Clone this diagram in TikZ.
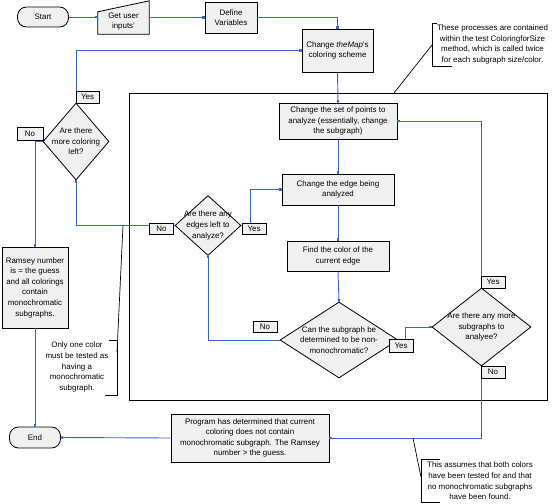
\documentclass[tikz,border=0pt]{standalone}
\usepackage{fontspec}
\setmainfont{Liberation Sans}
\usetikzlibrary{arrows.meta,shapes.geometric}
\definecolor{flow}{HTML}{3366CC}
\definecolor{boxfill}{HTML}{F0F0F0}
\begin{document}
\begin{tikzpicture}[x=1pt,y=-1pt,
 font=\fontsize{7.95}{10.6}\selectfont,
 proc/.style={draw=black,fill=boxfill,line width=0.8pt,align=center,inner sep=0pt},
 term/.style={proc,rounded corners=9pt},
 decision/.style={draw=black,fill=boxfill,line width=0.8pt,shape=diamond,inner sep=0pt},
 tag/.style={draw=black,fill=boxfill,line width=0.8pt,inner sep=0pt,minimum width=24pt,minimum height=12pt},
 flowline/.style={draw=flow,line width=0.9pt,-{Square[length=2.4pt,width=2.4pt]}},
 note/.style={align=center,inner sep=0pt},
 noteline/.style={draw=black,line width=0.7pt},
]
\useasboundingbox (0,0) rectangle (558,504);
% group rectangle
\node[draw=black,line width=1pt,minimum width=418pt,minimum height=307pt,inner sep=0pt] (group) at (338,246.5) {};
% nodes
\node[term,minimum width=51pt,minimum height=20pt] (start) at (43,17) {Start};
\node[minimum width=51pt,minimum height=33pt,inner sep=0pt] (inputs) at (123.5,17.5) {};
\draw[draw=black,fill=boxfill,line width=0.8pt] (inputs.south west) -- (inputs.south east) -- (inputs.north east) -- ([yshift=-11pt]inputs.north west) -- cycle;
\node[note] (inputs-t) at ([yshift=-4pt]inputs.center) {Get user\\inputs'};
\node[proc,minimum width=52pt,minimum height=31pt] (define) at (231,17.5) {Define\\Variables};
\node[proc,minimum width=71pt,minimum height=43pt] (map) at (337.5,50.5) {Change \textit{theMap}'s\\coloring scheme};
\node[proc,minimum width=118pt,minimum height=36pt] (points) at (338,121) {Change the set of points to\\analyze (essentially, change\\the subgraph)};
\node[proc,minimum width=112pt,minimum height=31pt] (edge) at (338,189.5) {Change the edge being\\analyzed};
\node[proc,minimum width=102pt,minimum height=30pt] (color) at (338,256) {Find the color of the\\current edge};
\node[decision,minimum width=118pt,minimum height=76pt,label={[note]center:{Can the subgraph be\\determined to be non-\\monochromatic?}}] (subg) at (339,340) {};
\node[decision,minimum width=99pt,minimum height=78pt,label={[note]center:{Are there any more\\subgraphs to\\analyee?}}] (more) at (481.5,327) {};
\node[decision,minimum width=66pt,minimum height=60pt,label={[note]center:{Are there any\\edges left to\\analyze?}}] (edges) at (208,225.5) {};
\node[decision,minimum width=66pt,minimum height=77pt,label={[note]center:{Are there\\more coloring\\left?}}] (coloring) at (76,141.5) {};
\node[proc,minimum width=66pt,minimum height=81pt] (ramsey) at (35,287.5) {Ramsey number\\is = the guess\\and all colorings\\contain\\monochromatic\\subgraphs.};
\node[term,minimum width=51pt,minimum height=21pt] (end) at (35,437.5) {End};
\node[proc,minimum width=158pt,minimum height=48pt] (program) at (250,438) {Program has determined that current\\coloring does not contain\\monochromatic subgraph. The Ramsey\\number > the guess.};
% flow lines
\draw[flowline] (start.east) -- (start.east -| inputs.west);
\draw[flowline] (inputs.east |- define.west) -- (define.west);
\draw[flowline] (define.east) -| (map.north);
\draw[flowline] (map.south) -- (points.north);
\draw[flowline] (points.south) -- (edge.north);
\draw[flowline] (edge.south) -- (color.north);
\draw[flowline] (color.south) -- (subg.north);
\draw[flowline] (subg.east) -- ++(7,0) |- (more.west);
\draw[flowline] (more.north) |- (points.east);
\draw[flowline] (more.south) |- (program.east);
\draw[flowline] (program.west) -- (end.east);
\draw[flowline] (subg.west) -| (edges.south);
\draw[flowline] (edges.east) -- ++(9,0) |- (edge.west);
\draw[flowline] (edges.west) -| (coloring.south);
\draw[flowline] (coloring.north) |- (map.west);
\draw[flowline] (coloring.west) -| (ramsey.north);
\draw[flowline] (ramsey.south) -- (end.north);
% tags
\node[tag,minimum width=23pt] (yes1) at (87.5,97) {Yes};
\node[tag,minimum width=26pt,minimum height=13pt] (no1) at (30,133.5) {No};
\node[tag,minimum height=11pt] (no2) at (161.5,228.5) {No};
\node[tag,minimum height=11pt] (yes2) at (254,228.5) {Yes};
\node[tag,minimum height=11pt] (no3) at (265,326.5) {No};
\node[tag,minimum height=13pt] (yes3) at (401,345.5) {Yes};
\node[tag] (yes4) at (493,282) {Yes};
\node[tag] (no4) at (493,372) {No};
% annotations
\node[note] (ann1) at (492.5,44.5) {These processes are contained\\within the test ColoringforSize\\method, which is called twice\\for each subgraph size/color.};
\coordinate (a1top) at (437,23);
\coordinate (a1bot) at (452,66);
\coordinate (a1mid) at (432,45);
\coordinate (a1tip) at (394,93);
\draw[noteline] (a1top) -- (a1top -| a1mid) -- (a1bot -| a1mid) -- (a1bot);
\draw[noteline] (a1mid) -- (a1tip);
\node[note] (ann2) at (77,367) {Only one color\\must be tested as\\having a\\monochromatic\\subgraph.};
\coordinate (a2top) at (109,340);
\coordinate (a2bot) at (105,395);
\coordinate (a2mid) at (117,352);
\coordinate (a2tip) at (123,225.5);
\draw[noteline] (a2top) -- (a2top -| a2mid) -- (a2bot -| a2mid) -- (a2bot);
\draw[noteline] (a2mid) -- (a2tip);
\node[note] (ann3) at (480,481) {This assumes that both colors\\have been tested for and that\\no monochromatic subgraphs\\have been found.};
\coordinate (a3top) at (440,459);
\coordinate (a3bot) at (440,502);
\coordinate (a3mid) at (421,477);
\coordinate (a3tip) at (413,438);
\draw[noteline] (a3top) -- (a3top -| a3mid) -- (a3bot -| a3mid) -- (a3bot);
\draw[noteline] (a3mid) -- (a3tip);
\end{tikzpicture}
\end{document}
